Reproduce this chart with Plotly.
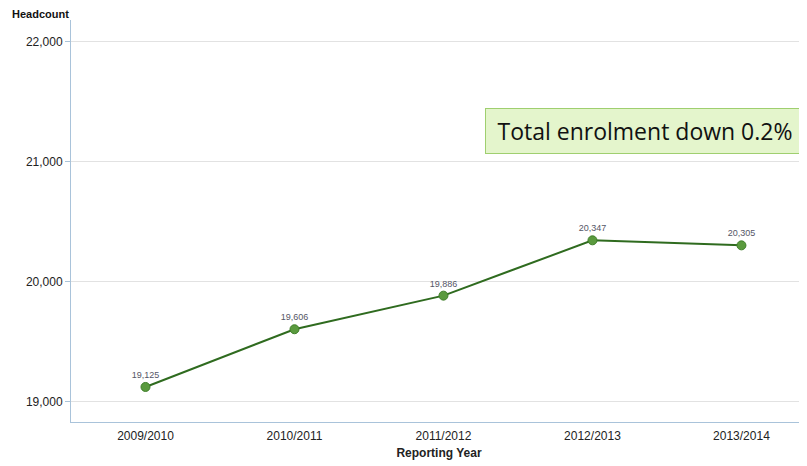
import plotly.graph_objects as go

years = ["2009/2010", "2010/2011", "2011/2012", "2012/2013", "2013/2014"]
headcount = [19125, 19606, 19886, 20347, 20305]
y_ticks = [19000, 20000, 21000, 22000]
note = "Total enrolment down 0.2%"

# the page body has an 8px margin, so the figure is drawn 8px smaller
fig = go.Figure()
fig.add_trace(go.Scatter(
    x=years,
    y=headcount,
    mode="lines+markers+text",
    line=dict(color="#2f6b1f", width=2),
    marker=dict(color="#5a9a3e", size=9, line=dict(color="#3f7f2a", width=1)),
    text=[f"{v:,}" for v in headcount],
    textposition="top center",
    textfont=dict(family="Arial", size=9, color="#555566"),
    cliponaxis=False,
    showlegend=False,
))

fig.update_layout(
    width=799,
    height=458,
    margin=dict(l=63, r=0, t=12, b=44),
    plot_bgcolor="white",
    paper_bgcolor="white",
    font=dict(family="Arial", size=12, color="#222222"),
    xaxis=dict(
        type="category",
        range=[-0.5, 4.44],
        automargin=False,
        showgrid=False,
        showline=True,
        linecolor="#a9c3da",
        linewidth=1,
        ticks="outside",
        ticklen=3,
        tickcolor="rgba(0,0,0,0)",
        tickfont=dict(size=12, color="#222222"),
        title=dict(text="<b>Reporting Year</b>", font=dict(size=12), standoff=6),
    ),
    yaxis=dict(
        range=[18833, 22183],
        automargin=False,
        tickvals=y_ticks,
        tickformat=",",
        showgrid=True,
        gridcolor="#e2e2e2",
        showline=True,
        linecolor="#a9c3da",
        linewidth=1,
        ticks="outside",
        ticklen=5,
        tickcolor="#a9c3da",
        zeroline=False,
        tickfont=dict(size=12, color="#222222"),
    ),
    annotations=[
        dict(
            text="<b>Headcount</b>",
            xref="paper", yref="paper",
            x=-61 / 736, y=1,
            xanchor="left", yanchor="bottom",
            yshift=-2,
            showarrow=False,
            font=dict(size=11, color="#111111"),
        ),
        dict(
            text=note,
            xref="paper", yref="paper",
            x=(645 - 71) / 736, y=(422 - 130.5) / 402,
            xanchor="center", yanchor="middle",
            width=306,
            showarrow=False,
            font=dict(family="Open Sans", size=23, color="#111111"),
            bgcolor="#e4f5cc",
            bordercolor="#9fcf6f",
            borderwidth=1,
            borderpad=6,
        ),
    ],
)

fig.write_html("out.html")
